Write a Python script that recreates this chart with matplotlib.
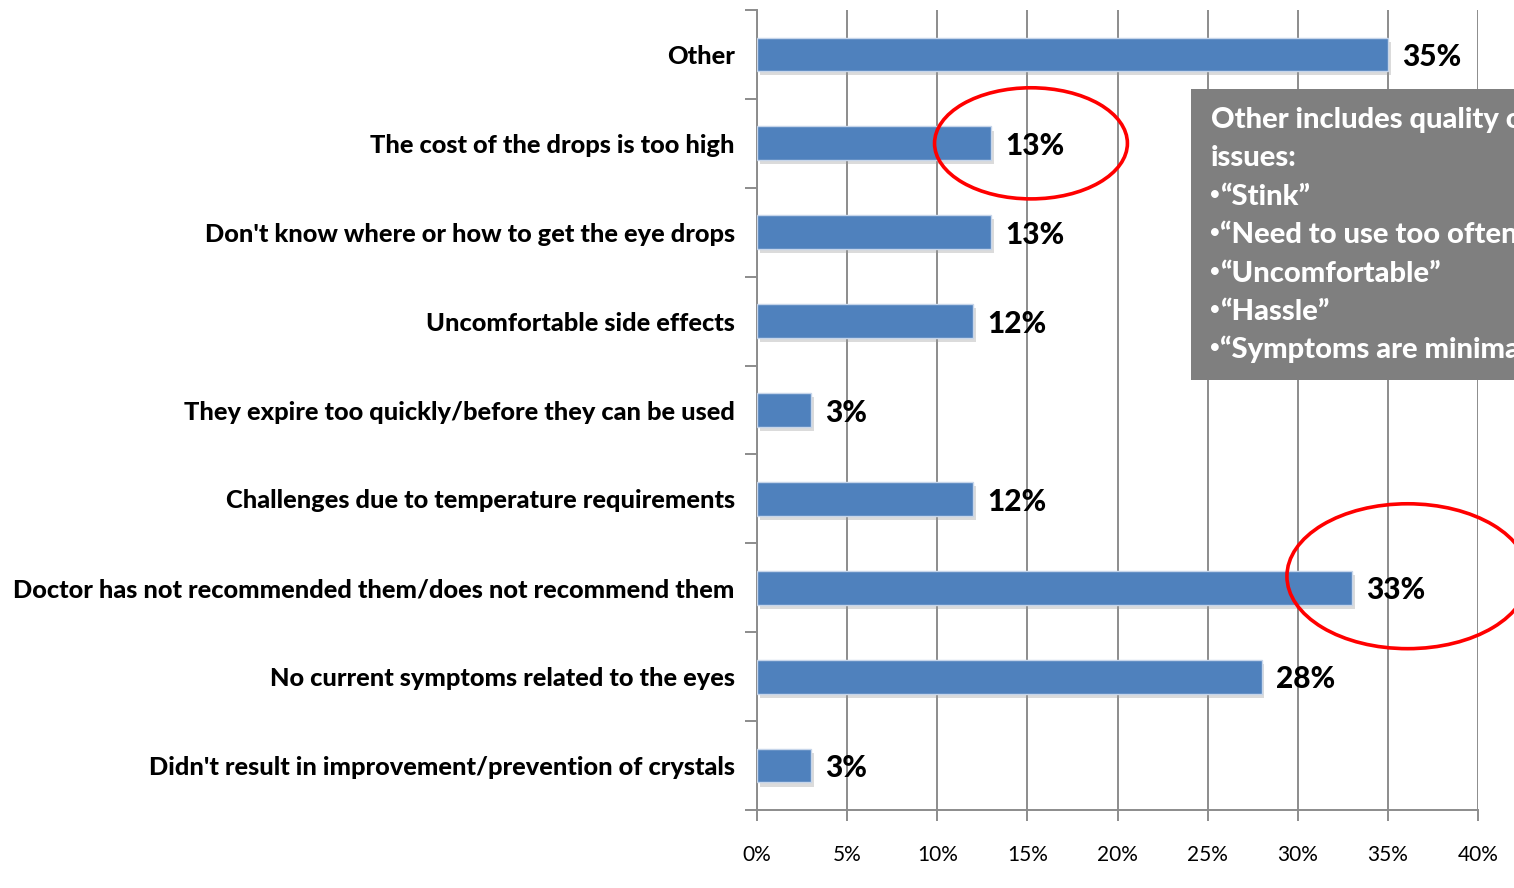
import numpy as np
import matplotlib
matplotlib.use('Agg')
import matplotlib.pyplot as plt
from matplotlib import patheffects
from matplotlib.patches import Ellipse, Rectangle
from matplotlib.ticker import FixedLocator

plt.rcParams['font.family'] = ['Lato', 'DejaVu Sans']

# reasons for not using the eye drops, top to bottom
categories = [
    'Other',
    'The cost of the drops is too high',
    "Don't know where or how to get the eye drops",
    'Uncomfortable side effects',
    'They expire too quickly/before they can be used',
    'Challenges due to temperature requirements',
    'Doctor has not recommended them/does not recommend them',
    'No current symptoms related to the eyes',
    "Didn't result in improvement/prevention of crystals",
]
values = [35, 13, 13, 12, 3, 12, 33, 28, 3]
xticks = [0, 5, 10, 15, 20, 25, 30, 35, 40]

note_head = ['Other includes quality of life', 'issues:']
note_bullets = [
    '\u201cStink\u201d',
    '\u201cNeed to use too often\u201d',
    '\u201cUncomfortable\u201d',
    '\u201cHassle\u201d',
    '\u201cSymptoms are minimal\u201d',
]

W, H = 1514, 888
GRID = '#8c8c8c'


def fx(px):
    return px / W


def fy(py):
    return 1 - py / H


fig = plt.figure(figsize=(W / 100, H / 100), dpi=100)
ax = fig.add_axes([fx(757), fy(810), fx(1478) - fx(757), (810 - 10) / H])

y = np.arange(len(categories))
bars = ax.barh(y, values, height=0.38, color='#4F81BD', edgecolor='#C6D5EA',
               linewidth=1.0, zorder=3)
for b in bars:
    b.set_path_effects([
        patheffects.SimplePatchShadow(offset=(2, -3), shadow_rgbFace='#9a9a9a', alpha=0.35),
        patheffects.Normal(),
    ])

for i, v in enumerate(values):
    ax.text(v + 0.8, i + 0.03, f'{v:.0f}%', ha='left', va='center',
            fontsize=21.5, fontweight='black', color='black', zorder=4)

ax.set_xlim(0, 40)
ax.set_ylim(len(categories) - 0.5, -0.5)

ax.set_xticks(xticks)
ax.set_xticklabels([f'{t}%' for t in xticks], fontsize=15)
ax.set_yticks(y)
ax.set_yticklabels(categories, fontsize=18.25, fontweight='black')
ax.yaxis.set_minor_locator(FixedLocator(np.arange(-0.5, len(categories), 1)))

ax.tick_params(axis='y', which='major', length=0, pad=16)
ax.tick_params(axis='y', which='minor', length=9, width=1.4, color=GRID)
ax.tick_params(axis='x', which='major', length=8, width=1.4, color=GRID, pad=17)

ax.xaxis.grid(True, color=GRID, linewidth=1.4)
ax.set_axisbelow(True)
for side in ['top', 'right']:
    ax.spines[side].set_visible(False)
for side in ['left', 'bottom']:
    ax.spines[side].set_color(GRID)
    ax.spines[side].set_linewidth(1.4)

# note box on the right
box = Rectangle((fx(1191), fy(380)), fx(1514 + 200) - fx(1191), (380 - 89) / H,
                transform=fig.transFigure, facecolor='#7f7f7f', edgecolor='none', zorder=5)
fig.patches.append(box)
for k, line in enumerate(note_head):
    fig.text(fx(1211), fy(128 + k * 38.4), line, ha='left', va='baseline',
             fontsize=21, fontweight='black', color='white', zorder=6)
for k, line in enumerate(note_bullets):
    base = 128 + (k + 2) * 38.4
    fig.text(fx(1214.5), fy(base - 11), '\u2022', ha='center', va='center',
             fontsize=12, fontweight='black', color='white', zorder=6)
    fig.text(fx(1220), fy(base), line, ha='left', va='baseline',
             fontsize=21, fontweight='black', color='white', zorder=6)

# red highlight rings
ax.add_patch(Ellipse((15.2, 1.0), 10.7, 1.25, fill=False, edgecolor='#ff0000',
                     linewidth=2.6, zorder=7, clip_on=False))
ax.add_patch(Ellipse((36.1, 5.87), 13.4, 1.63, fill=False, edgecolor='#ff0000',
                     linewidth=2.6, zorder=7, clip_on=False))

fig.savefig('out.png', dpi=100)
